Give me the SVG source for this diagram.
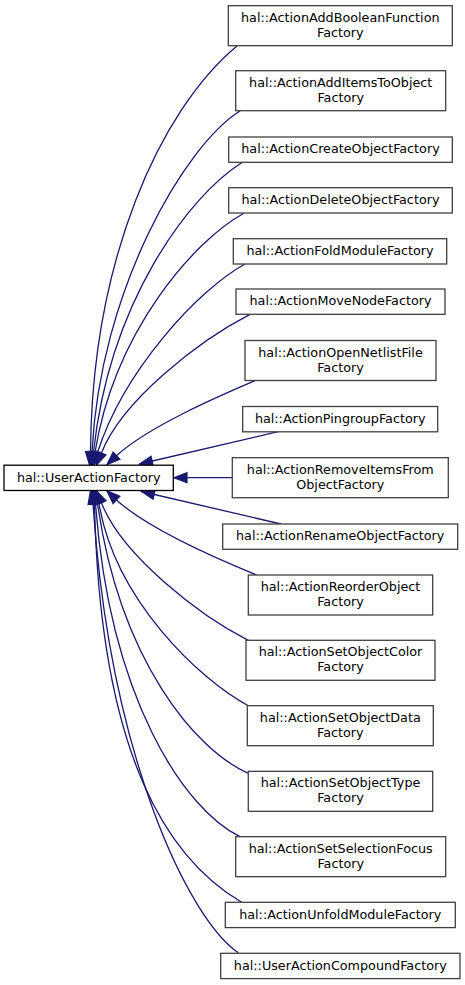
<svg xmlns="http://www.w3.org/2000/svg" width="465" height="985" viewBox="0 0 465 985">
<style>
.bg{fill:#fff}
.nd rect{fill:#fff;stroke:#404040;stroke-width:1.3}
.nd.main rect{stroke:#000}
.nd text{font-family:"DejaVu Sans",sans-serif;font-size:12.75px;fill:#000;text-anchor:middle}
.edges path{fill:none;stroke:#191970;stroke-width:1.3;marker-end:url(#arr)}
</style>
<defs>
<marker id="arr" markerUnits="userSpaceOnUse" markerWidth="16" markerHeight="12" refX="13" refY="5" orient="auto" overflow="visible">
<path d="M0,0 L13,5 L0,10 Z" fill="#191970" stroke="#191970" stroke-width="1.2"/>
</marker>
</defs>
<rect class="bg" x="0" y="0" width="465" height="985"/>
<g id="connectors" class="edges">
<path d="M237,46 C160,110 92,260 90.5,452 L89.5,465"/>
<path d="M240,111 C185,145 100,290 92,452 L90.5,465"/>
<path d="M242,162.5 C190,195 110,300 93.5,452 L91.5,465"/>
<path d="M243.5,213.5 C195,240 115,330 95,452.3 L92.5,465"/>
<path d="M245,264 C198,290 124,370 97.5,452.5 L94,465"/>
<path d="M250,314.3 C200,340 122,400 101.5,452.8 L96.5,465"/>
<path d="M255,380.7 C220,395.7 150,425.7 117,455.2 L107,464.5"/>
<path d="M278,431.7 L139.5,464"/>
<path d="M232.3,477.7 L174,477.7"/>
<path d="M281,524 L141.5,491.5"/>
<path d="M256.7,575 C220,560 150,530 117,500.5 L107,491"/>
<path d="M248.3,640.3 C200,615.7 122,555.7 101.5,502.9 L96.5,490.7"/>
<path d="M248.3,705.7 C200,680 115,600 99,503.5 L95,490.7"/>
<path d="M248.3,773.3 C195,750 120,660 97.5,503.5 L94,490.7"/>
<path d="M240,836.7 C185,810 110,700 95.5,503.5 L93,490.7"/>
<path d="M241.7,902.3 C170,860 100,760 94.5,503.5 L92,490.7"/>
<path d="M238.3,952.7 C190,920 110,760 93,503.5 L90.5,490.7"/>
</g>
<g id="n1" class="nd"><rect x="228.3" y="5.7" width="224" height="40"/><text x="340.3" y="21.7">hal::ActionAddBooleanFunction</text><text x="340.3" y="36.7">Factory</text></g>
<g id="n2" class="nd"><rect x="235.7" y="70.7" width="210" height="40"/><text x="340.7" y="86.7">hal::ActionAddItemsToObject</text><text x="340.7" y="101.7">Factory</text></g>
<g id="n3" class="nd"><rect x="228.7" y="137" width="223.6" height="25.3"/><text x="340.5" y="153.3">hal::ActionCreateObjectFactory</text></g>
<g id="n4" class="nd"><rect x="228.7" y="187.7" width="223.6" height="25.3"/><text x="340.5" y="204">hal::ActionDeleteObjectFactory</text></g>
<g id="n5" class="nd"><rect x="233.3" y="238.7" width="213.4" height="25.3"/><text x="340" y="255">hal::ActionFoldModuleFactory</text></g>
<g id="n6" class="nd"><rect x="236" y="289" width="209" height="25.3"/><text x="340.5" y="305.3">hal::ActionMoveNodeFactory</text></g>
<g id="n7" class="nd"><rect x="245" y="340.5" width="191" height="40"/><text x="340.5" y="356.5">hal::ActionOpenNetlistFile</text><text x="340.5" y="371.5">Factory</text></g>
<g id="n8" class="nd"><rect x="242.7" y="406.5" width="195" height="25.3"/><text x="340.2" y="422.8">hal::ActionPingroupFactory</text></g>
<g id="main" class="nd main"><rect x="4" y="465.2" width="169.3" height="25.3"/><text x="88.7" y="481.5">hal::UserActionFactory</text></g>
<g id="n9" class="nd"><rect x="232.3" y="457.7" width="216" height="40"/><text x="340.3" y="473.7">hal::ActionRemoveItemsFrom</text><text x="340.3" y="488.7">ObjectFactory</text></g>
<g id="n10" class="nd"><rect x="222.7" y="524" width="235" height="25.3"/><text x="340.2" y="540.3">hal::ActionRenameObjectFactory</text></g>
<g id="n11" class="nd"><rect x="248.3" y="575" width="184.4" height="40"/><text x="340.5" y="591">hal::ActionReorderObject</text><text x="340.5" y="606">Factory</text></g>
<g id="n12" class="nd"><rect x="246" y="640.3" width="189" height="40"/><text x="340.5" y="656.3">hal::ActionSetObjectColor</text><text x="340.5" y="671.3">Factory</text></g>
<g id="n13" class="nd"><rect x="247.3" y="705.7" width="186" height="40"/><text x="340.3" y="721.7">hal::ActionSetObjectData</text><text x="340.3" y="736.7">Factory</text></g>
<g id="n14" class="nd"><rect x="248.3" y="771.3" width="184.4" height="40"/><text x="340.5" y="787.3">hal::ActionSetObjectType</text><text x="340.5" y="802.3">Factory</text></g>
<g id="n15" class="nd"><rect x="235.7" y="836.7" width="210" height="40"/><text x="340.7" y="852.7">hal::ActionSetSelectionFocus</text><text x="340.7" y="867.7">Factory</text></g>
<g id="n16" class="nd"><rect x="225.3" y="902.3" width="230" height="25.3"/><text x="340.3" y="918.6">hal::ActionUnfoldModuleFactory</text></g>
<g id="n17" class="nd"><rect x="220.7" y="953.3" width="239.3" height="25.3"/><text x="340.3" y="969.6">hal::UserActionCompoundFactory</text></g>
</svg>
